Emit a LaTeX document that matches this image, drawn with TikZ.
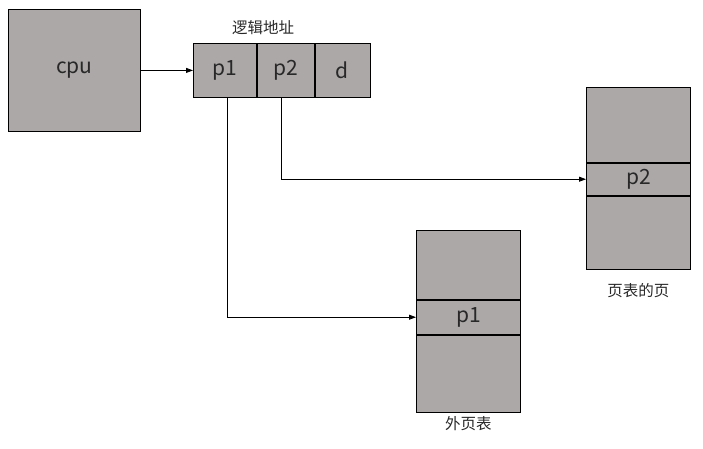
\documentclass[tikz,border=0pt]{standalone}
\usepackage{fontspec}
\setmainfont{Noto Sans CJK SC}
\usetikzlibrary{arrows.meta, positioning}
\definecolor{cellgray}{RGB}{172,168,168}
\definecolor{textgray}{RGB}{40,40,40}

\begin{document}
\begin{tikzpicture}[
      x=1pt, y=-1pt,
      >={Triangle[length=7pt,width=5pt]},
      node distance=0pt,
      every node/.append style={inner sep=0pt, text=textgray},
      cell/.style={rectangle, draw, line width=0.8pt, fill=cellgray,
                   font=\fontsize{21}{21}\selectfont, anchor=north west},
      caption/.style={font=\fontsize{15.5}{15.5}\selectfont},
      link/.style={->, line width=0.8pt},
    ]
      \useasboundingbox (0,0) rectangle (703,448);
      % cpu
      \node[cell, minimum width=132pt, minimum height=122pt] (cpu) at (8,9) {cpu};
      % logical address
      \node[cell, minimum width=63pt, minimum height=54pt] (p1) at (193,43) {p1};
      \node[cell, minimum width=57pt, minimum height=54pt, right=of p1] (p2) {p2};
      \node[cell, minimum width=55pt, minimum height=54pt, right=of p2] (d) {d};
      \node[caption] (addr) at (263,28) {逻辑地址};
      % outer page table
      \node[cell, minimum width=104pt, minimum height=69pt] (otop) at (416,230) {};
      \node[cell, minimum width=104pt, minimum height=34pt, below=of otop] (oent) {p1};
      \node[cell, minimum width=104pt, minimum height=77pt, below=of oent] (obot) {};
      \node[caption, below=4pt of obot] (olabel) {外页表};
      % page of page table
      \node[cell, minimum width=104pt, minimum height=75pt] (ptop) at (586,87) {};
      \node[cell, minimum width=104pt, minimum height=32pt, below=of ptop] (pent) {p2};
      \node[cell, minimum width=104pt, minimum height=73pt, below=of pent] (pbot) {};
      \node[caption, below=14pt of pbot] (plabel) {页表的页};
      % connectors
      \draw[link] (cpu.east) -- (p1.west);
      \draw[link] ([xshift=2.5pt]p1.south) |- (oent.west);
      \draw[link] ([xshift=-4.5pt]p2.south) |- (pent.west);
    \end{tikzpicture}
\end{document}
